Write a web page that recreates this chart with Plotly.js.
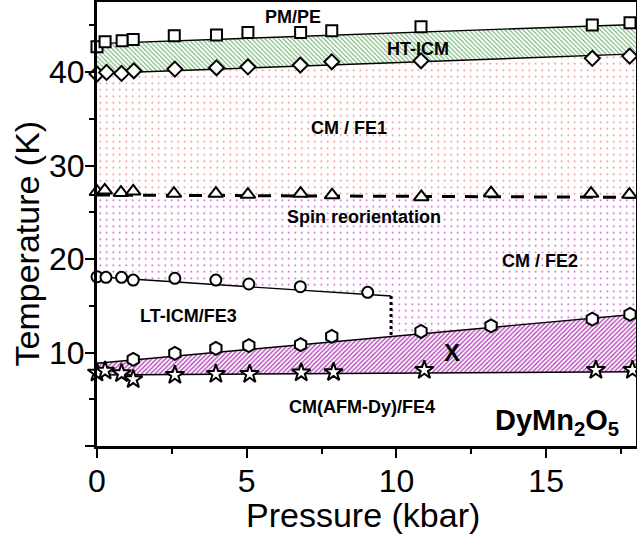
<!DOCTYPE html>
<html><head><meta charset="utf-8">
<script src="https://cdn.plot.ly/plotly-3.0.1.min.js"></script>
<style>html,body{margin:0;padding:0;background:#fff}#chart{width:637px;height:539px}</style>
</head><body><div id="chart"></div>
<script>
// ---- measured points (pressure in kbar, temperature in K) ----
const pmP  = [0, 0.27, 0.84, 1.21, 2.58, 3.99, 5.04, 6.8, 7.84, 10.82, 16.54, 17.8];
const pmT  = [42.7, 43.24, 43.35, 43.5, 43.88, 43.96, 44.25, 44.25, 44.42, 44.84, 45.03, 45.27];
const icmP = [0, 0.32, 0.82, 1.23, 2.6, 3.99, 5.04, 6.79, 7.84, 10.82, 16.54, 17.79];
const icmT = [39.79, 39.97, 39.86, 40.14, 40.32, 40.46, 40.56, 40.75, 41.1, 41.21, 41.47, 41.71];
const srP  = [0, 0.26, 0.8, 1.21, 2.57, 3.97, 5.04, 6.8, 7.85, 10.83, 13.16, 16.5, 17.78];
const srT  = [27.2, 27.35, 27.1, 27.25, 27.0, 27.0, 26.9, 27.0, 26.85, 26.65, 27.05, 27.0, 26.9];
const ltP  = [0, 0.3, 0.82, 1.21, 2.6, 3.97, 5.07, 6.79, 9.04];
const ltT  = [18.1, 18.04, 18.04, 17.75, 17.94, 17.75, 17.33, 17.04, 16.44];
const xP   = [1.21, 2.6, 3.97, 5.07, 6.8, 7.84, 10.82, 13.16, 16.54, 17.8];
const xT   = [9.27, 9.91, 10.45, 10.73, 10.85, 11.72, 12.25, 12.85, 13.58, 14.09];
const dyP  = [0, 0.27, 0.82, 1.21, 2.6, 3.97, 5.1, 6.82, 7.9, 10.93, 16.66, 17.88];
const dyT  = [7.84, 8.05, 7.77, 7.13, 7.59, 7.7, 7.7, 7.85, 7.9, 8.13, 8.13, 8.13];

// ---- phase boundary lines (end points) ----
const edgeP   = [0, 18];
const pmEdge  = [43.05, 45.1];
const icmEdge = [39.85, 41.95];
const srEdge  = [26.85, 26.6];
const ltEdgeP = [0, 9.82];
const ltEdge  = [18.1, 16.04];
const xEdge   = [8.85, 14.1];
const dyEdge  = [7.6, 7.95];

// ---- labels ----
const labelText = ['PM/PE', 'HT-ICM', 'CM / FE1', 'Spin reorientation', 'CM / FE2', 'LT-ICM/FE3', 'X', 'CM(AFM-Dy)/FE4'];
const labelP    = [6.54, 10.73, 8.4, 8.93, 14.78, 3.07, 11.86, 8.84];
const labelT    = [45.9, 42.43, 34.0, 24.5, 19.8, 13.9, 9.98, 4.14];
const labelSize = [18, 18, 18, 18, 18, 18, 24, 18];

function at(P, T, p) { return T[0] + (T[1] - T[0]) * (p - P[0]) / (P[1] - P[0]); }

const P0 = edgeP[0], P1 = edgeP[1], Pv = ltEdgeP[1];
const traces = [];

function region(xs, ys, shape, color, size, solidity) {
  traces.push({
    x: xs, y: ys, type: 'scatter', mode: 'lines', fill: 'toself',
    line: {width: 0, color: 'rgba(0,0,0,0)'},
    fillcolor: 'rgba(0,0,0,0)',
    fillpattern: {shape: shape, fgcolor: color, bgcolor: 'rgba(0,0,0,0)', size: size, solidity: solidity},
    hoverinfo: 'skip', showlegend: false
  });
}
// HT-ICM band (green hatch)
region([P0, P1, P1, P0], [pmEdge[0], pmEdge[1], icmEdge[1], icmEdge[0]], '\\', 'rgba(40,140,40,0.75)', 3.2, 0.3);
// CM/FE1 (red dots)
region([P0, P1, P1, P0], [icmEdge[0], icmEdge[1], srEdge[1], srEdge[0]], '.', 'rgba(235,60,60,0.7)', 6.5, 0.05);
// CM/FE2 (magenta dots)
region([P0, P1, P1, Pv, Pv, P0],
       [srEdge[0], srEdge[1], xEdge[1], at(edgeP, xEdge, Pv), ltEdge[1], ltEdge[0]],
       '.', 'rgba(190,30,190,0.85)', 6.5, 0.05);
// X region (magenta hatch)
region([P0, P1, P1, P0], [xEdge[0], xEdge[1], dyEdge[1], dyEdge[0]], '/', 'rgba(170,40,175,0.9)', 3.2, 0.42);

function bline(xs, ys, width, dash) {
  traces.push({x: xs, y: ys, type: 'scatter', mode: 'lines',
    line: {color: '#000', width: width, dash: dash || 'solid'}, hoverinfo: 'skip', showlegend: false});
}
bline(edgeP, pmEdge, 1.4);
bline(edgeP, icmEdge, 1.4);
bline(edgeP, srEdge, 3, '13px,10px');
bline(ltEdgeP, ltEdge, 1.4);
bline(edgeP, xEdge, 1.4);
bline(edgeP, dyEdge, 1.4);
bline([Pv, Pv], [ltEdge[1], at(edgeP, xEdge, Pv)], 3, 'dot');

function pts(xs, ys, symbol, size) {
  traces.push({x: xs, y: ys, type: 'scatter', mode: 'markers', cliponaxis: false,
    marker: {symbol: symbol, size: size, color: 'white', line: {color: '#000', width: 2}},
    hoverinfo: 'x+y', showlegend: false});
}
pts(pmP, pmT, 'square', 11);
pts(icmP, icmT, 'diamond', 11.5);
pts(srP, srT, 'triangle-up', 13);
pts(ltP, ltT, 'circle', 11);
pts(xP, xT, 'hexagon', 13);
pts(dyP, dyT, 'star', 14);

const FONT = 'Arial, Liberation Sans, sans-serif';
const annotations = labelText.map((t, i) => ({
  x: labelP[i], y: labelT[i], xref: 'x', yref: 'y', text: '<b>' + t + '</b>', showarrow: false,
  xanchor: 'center', yanchor: 'middle',
  font: {family: FONT, size: labelSize[i], color: '#000'}
}));
annotations.push({x: 15.37, y: 2.6, xref: 'x', yref: 'y', showarrow: false, xanchor: 'center', yanchor: 'middle',
  text: '<b>DyMn<sub>2</sub>O<sub>5</sub></b>',
  font: {family: FONT, size: 29, color: '#000'}});
annotations.push({x: -0.13, y: 0.456, xref: 'paper', yref: 'paper', showarrow: false, textangle: -90,
  xanchor: 'center', yanchor: 'middle',
  text: 'Temperature (K)', font: {family: FONT, size: 34, color: '#000'}});
annotations.push({x: 0.494, y: -0.155, xref: 'paper', yref: 'paper', showarrow: false,
  xanchor: 'center', yanchor: 'middle',
  text: 'Pressure (kbar)', font: {family: FONT, size: 34, color: '#000'}});

const axisCommon = {
  showline: true, mirror: true, linewidth: 3, linecolor: '#000',
  showgrid: false, zeroline: false, ticks: 'outside', ticklen: 9, tickwidth: 2, tickcolor: '#000',
  tickfont: {family: FONT, size: 32, color: '#000'}
};
const layout = {
  width: 637, height: 539,
  margin: {l: 97, r: 1, t: 2, b: 93},
  paper_bgcolor: '#fff', plot_bgcolor: '#fff',
  xaxis: Object.assign({}, axisCommon, {range: [0, 18], tickmode: 'linear', tick0: 0, dtick: 5,
    ticklabelstandoff: -4,
    minor: {ticks: 'outside', ticklen: 5, tickwidth: 2, tickcolor: '#000', dtick: 2.5, tick0: 0}}),
  yaxis: Object.assign({}, axisCommon, {range: [0, 47.5], tickmode: 'array',
    tickvals: [0, 10, 20, 30, 40], ticktext: ['', '10', '20', '30', '40'],
    ticklabelstandoff: -6,
    minor: {ticks: 'outside', ticklen: 5, tickwidth: 2, tickcolor: '#000', dtick: 5, tick0: 0}}),
  annotations: annotations,
  showlegend: false
};
Plotly.newPlot('chart', traces, layout, {displayModeBar: false, staticPlot: true});
</script></body></html>
